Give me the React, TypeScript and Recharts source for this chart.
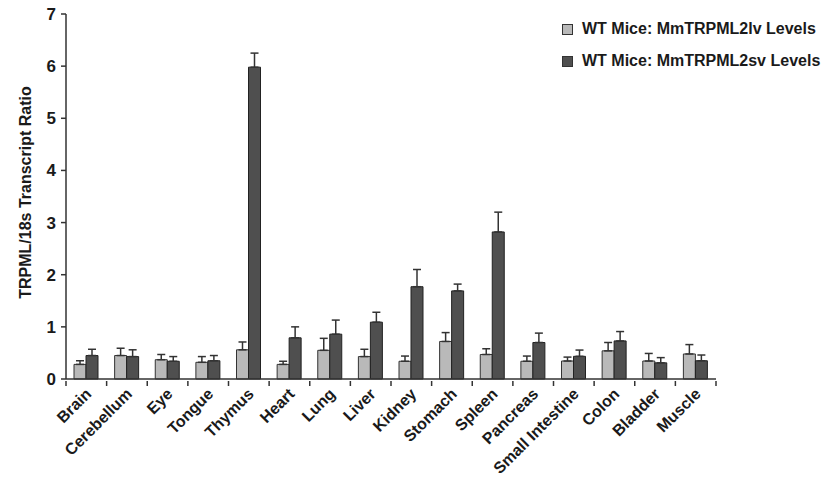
import { Bar, BarChart, ErrorBar, XAxis, YAxis } from "recharts";

const tissues = [
  "Brain", "Cerebellum", "Eye", "Tongue", "Thymus", "Heart", "Lung", "Liver",
  "Kidney", "Stomach", "Spleen", "Pancreas", "Small Intestine", "Colon", "Bladder", "Muscle",
];
const lvLevels = [0.28, 0.45, 0.37, 0.32, 0.56, 0.28, 0.55, 0.43, 0.34, 0.72, 0.47, 0.34, 0.345, 0.54, 0.345, 0.48];
const lvErrors = [0.07, 0.14, 0.1, 0.11, 0.15, 0.06, 0.23, 0.14, 0.1, 0.17, 0.11, 0.1, 0.075, 0.16, 0.145, 0.18];
const svLevels = [0.45, 0.43, 0.34, 0.35, 5.98, 0.79, 0.86, 1.09, 1.77, 1.69, 2.82, 0.7, 0.435, 0.73, 0.31, 0.35];
const svErrors = [0.12, 0.13, 0.09, 0.1, 0.27, 0.21, 0.27, 0.19, 0.33, 0.13, 0.38, 0.18, 0.12, 0.18, 0.1, 0.11];
const yTicks = [0, 1, 2, 3, 4, 5, 6, 7];
const seriesNames = ["WT Mice: MmTRPML2lv Levels", "WT Mice: MmTRPML2sv Levels"];
const seriesColors = ["#b9b9b9", "#4f4f4f"];

const data = tissues.map((tissue, i) => ({
  tissue,
  lv: lvLevels[i],
  lvErr: [0, lvErrors[i]],
  sv: svLevels[i],
  svErr: [0, svErrors[i]],
}));

const FONT = "'Liberation Sans', Arial, Helvetica, sans-serif";
const W = 832;
const H = 482;
const xAxisH = 30;
const margin = { top: 14, right: 116, bottom: 103 - xAxisH, left: 0 };
const yAxisW = 66;
const band = (W - margin.right - yAxisW) / tissues.length;

const XTick = (props: any) => {
  const { x, y, payload, index } = props;
  return (
    <g>
      <line x1={x - band / 2} x2={x - band / 2} y1={y} y2={y + 5} stroke="#333" strokeWidth={1.5} />
      {index === tissues.length - 1 && (
        <line x1={x + band / 2} x2={x + band / 2} y1={y} y2={y + 5} stroke="#333" strokeWidth={1.5} />
      )}
      <text
        x={x + 6}
        y={y + 14}
        transform={`rotate(-45 ${x + 6} ${y + 14})`}
        textAnchor="end"
        fontFamily={FONT}
        fontWeight="bold"
        fontSize={16}
        fill="#1a1a1a"
      >
        {payload.value}
      </text>
    </g>
  );
};

const YTitle = (props: any) => {
  const vb = props.viewBox || {};
  const cy = (vb.y ?? margin.top) + (vb.height ?? 0) / 2 - 4;
  return (
    <text
      x={25}
      y={cy}
      transform={`rotate(-90 25 ${cy})`}
      textAnchor="middle"
      dominantBaseline="central"
      fontFamily={FONT}
      fontWeight="bold"
      fontSize={16}
      fill="#1a1a1a"
    >
      TRPML/18s Transcript Ratio
    </text>
  );
};

export default function App() {
  return (
    <div style={{ position: "absolute", left: 0, top: 0, width: W, height: H, background: "#fff" }}>
      <BarChart width={W} height={H} data={data} margin={margin} barSize={12} barGap={0}>
        <XAxis
          dataKey="tissue"
          height={xAxisH}
          interval={0}
          tickLine={false}
          tickSize={0}
          tick={<XTick />}
          axisLine={{ stroke: "#333", strokeWidth: 1.5 }}
        />
        <YAxis
          width={yAxisW}
          domain={[0, 7]}
          ticks={yTicks}
          tickSize={5}
          tickMargin={5}
          axisLine={{ stroke: "#333", strokeWidth: 1.5 }}
          tickLine={{ stroke: "#333", strokeWidth: 1.5 }}
          tick={{ fontFamily: FONT, fontWeight: "bold", fontSize: 17, fill: "#1a1a1a" }}
          label={<YTitle />}
        />
        <Bar dataKey="lv" name={seriesNames[0]} fill={seriesColors[0]} stroke="#333" strokeWidth={1} isAnimationActive={false}>
          <ErrorBar dataKey="lvErr" width={4} stroke="#333" strokeWidth={1.5} />
        </Bar>
        <Bar dataKey="sv" name={seriesNames[1]} fill={seriesColors[1]} stroke="#222" strokeWidth={1} isAnimationActive={false}>
          <ErrorBar dataKey="svErr" width={4} stroke="#333" strokeWidth={1.5} />
        </Bar>
      </BarChart>
      <div
        style={{
          position: "absolute",
          left: 562,
          top: 13,
          fontFamily: FONT,
          fontWeight: "bold",
          fontSize: 16,
          color: "#1a1a1a",
        }}
      >
        {seriesNames.map((name, i) => (
          <div key={name} style={{ display: "flex", alignItems: "center", height: 32, whiteSpace: "nowrap" }}>
            <span
              style={{
                display: "inline-block",
                width: 9,
                height: 9,
                background: seriesColors[i],
                border: "1px solid #333",
                marginRight: 9,
              }}
            />
            {name}
          </div>
        ))}
      </div>
    </div>
  );
}
